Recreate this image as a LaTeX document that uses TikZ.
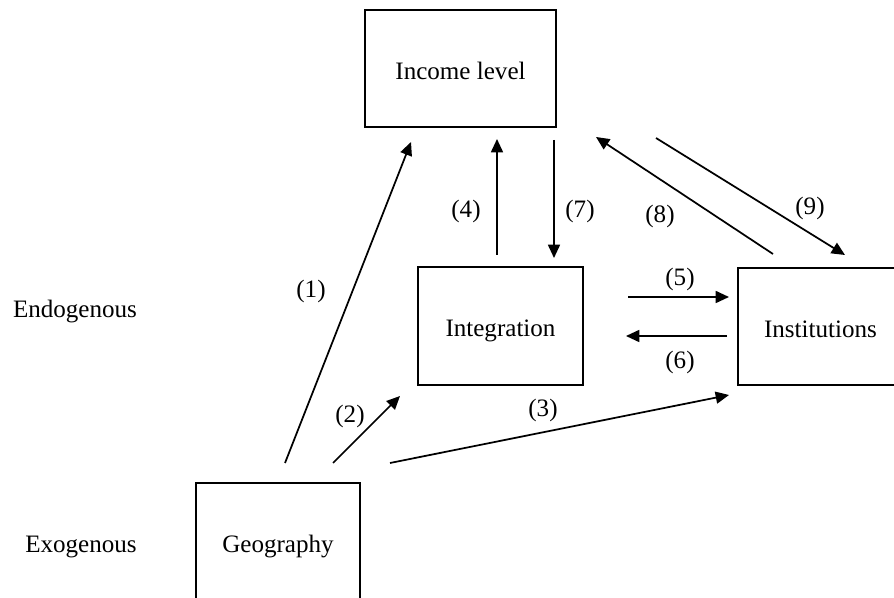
\documentclass[tikz,border=0pt]{standalone}
\usepackage{fontspec}
\setmainfont{Liberation Serif}
\usetikzlibrary{arrows.meta}
\tikzset{
  box/.style={draw, line width=1.5pt, inner sep=0pt, text height=15.8pt, text depth=0pt, font=\fontsize{18.8}{22}\selectfont},
  lbl/.style={inner sep=0pt, font=\fontsize{18.8}{22}\selectfont},
  arr/.style={line width=1.3pt, -{Triangle[length=10pt,width=9pt]}},
}
\begin{document}
\begin{tikzpicture}[x=0.75pt,y=-0.75pt]
\useasboundingbox (0,0) rectangle (894,598);
\clip (0,0) rectangle (894,598);
% boxes
\node[box, minimum width=191*0.75pt, minimum height=117*0.75pt] (income) at (460.5,68.5) {Income level};
\node[box, minimum width=165*0.75pt, minimum height=118*0.75pt] (integ) at (500.5,326) {Integration};
\node[box, minimum width=165*0.75pt, minimum height=117*0.75pt] (inst) at (820.5,326.5) {Institutions};
\node[box, minimum width=164*0.75pt, minimum height=118*0.75pt] (geo) at (278,542) {Geography};
% side labels
\node[lbl] (endo) at (75,312) {Endogenous};
\node[lbl] (exo) at (81,547) {Exogenous};
% arrow end points
\coordinate (a1s) at (285,463); \coordinate (a1e) at (411,142);
\coordinate (a2s) at (333,463); \coordinate (a2e) at (400,396);
\coordinate (a3s) at (390,463); \coordinate (a3e) at (729,395);
\coordinate (a4s) at (497,255); \coordinate (a4e) at (497,139);
\coordinate (a7s) at (554,140); \coordinate (a7e) at (554,258);
\coordinate (a5s) at (628,297); \coordinate (a5e) at (729,297);
\coordinate (a6s) at (727,336); \coordinate (a6e) at (626,336);
\coordinate (a8s) at (773,254); \coordinate (a8e) at (596,137);
\coordinate (a9s) at (656,138); \coordinate (a9e) at (845,255);
% arrows
\draw[arr] (a1s) -- (a1e);
\draw[arr] (a2s) -- (a2e);
\draw[arr] (a3s) -- (a3e);
\draw[arr] (a4s) -- (a4e);
\draw[arr] (a7s) -- (a7e);
\draw[arr] (a5s) -- (a5e);
\draw[arr] (a6s) -- (a6e);
\draw[arr] (a8s) -- (a8e);
\draw[arr] (a9s) -- (a9e);
% arrow labels
\node[lbl] (l1) at (311,291) {(1)};
\node[lbl] (l2) at (350,416) {(2)};
\node[lbl] (l3) at (543,410) {(3)};
\node[lbl] (l4) at (466,211) {(4)};
\node[lbl] (l7) at (580,211) {(7)};
\node[lbl] (l8) at (660,216) {(8)};
\node[lbl] (l9) at (810,208) {(9)};
\node[lbl] (l5) at (680,279) {(5)};
\node[lbl] (l6) at (680,362) {(6)};
\end{tikzpicture}
\end{document}
